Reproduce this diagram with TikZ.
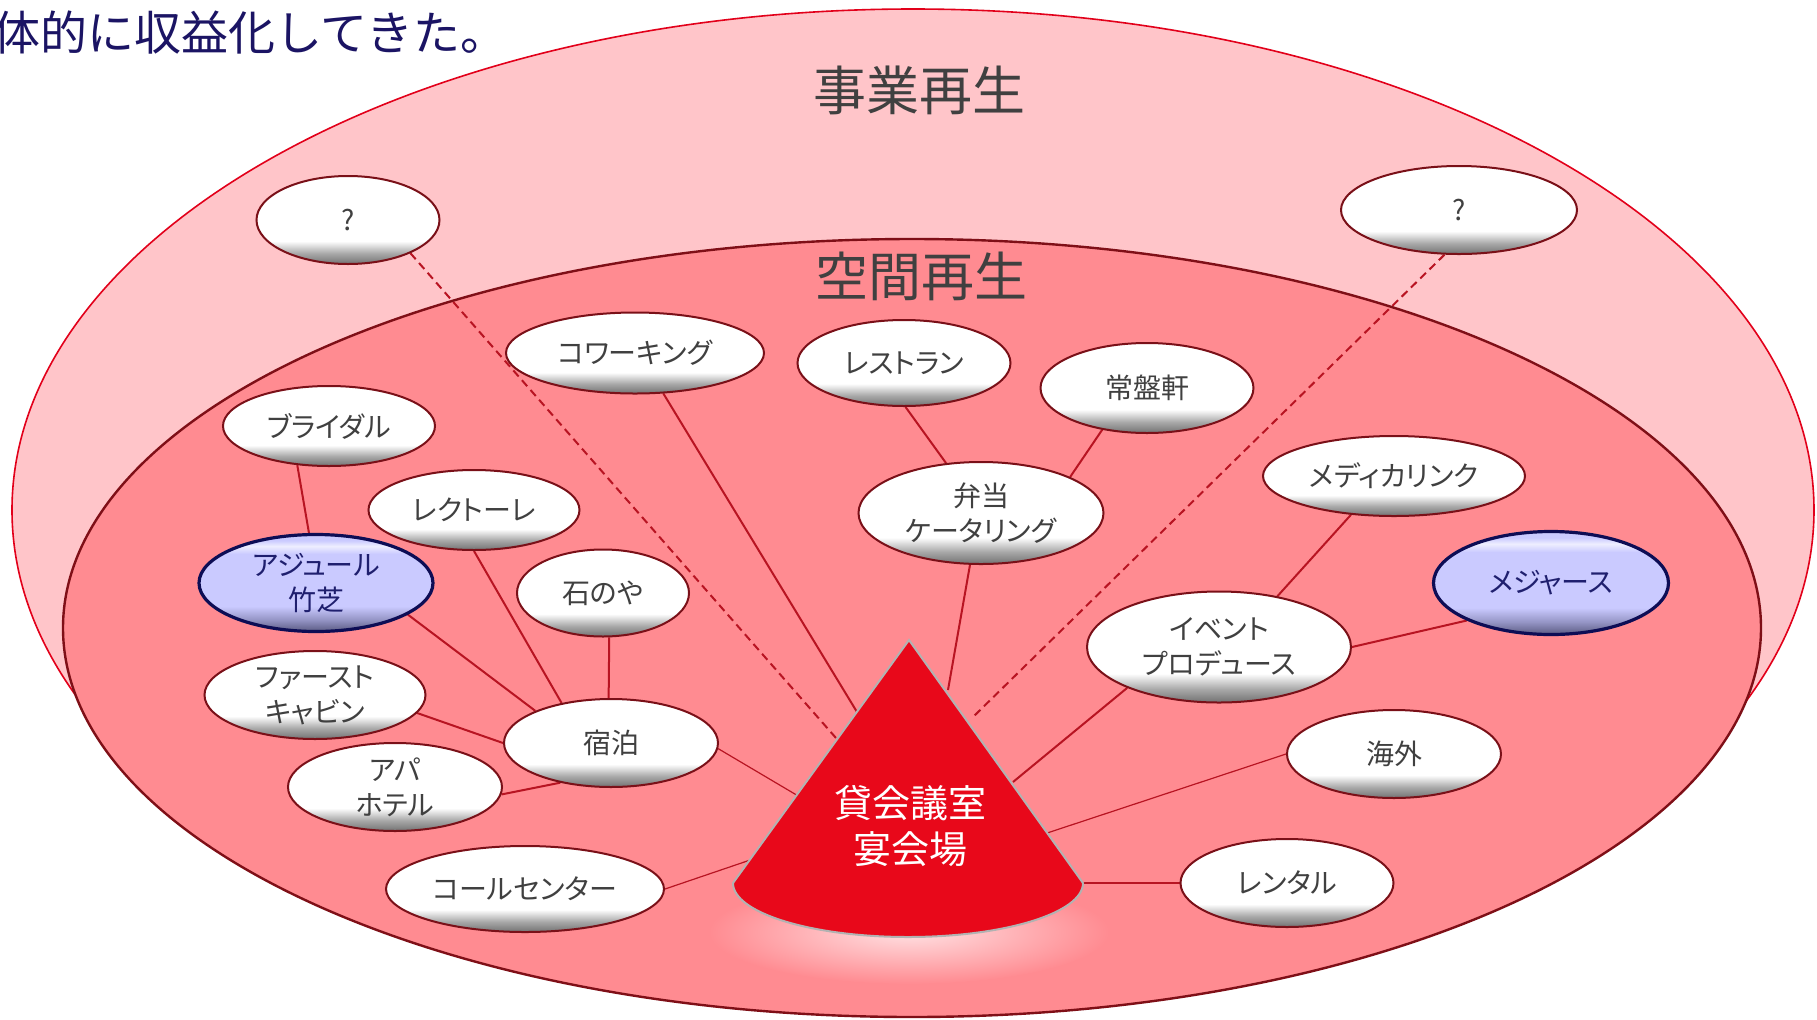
\documentclass[tikz,border=0pt]{standalone}
\usepackage{fontspec}
\setmainfont{Noto Sans CJK JP}
\newfontfamily\jpp[RawFeature=+palt]{Noto Sans CJK JP}
\usetikzlibrary{shapes.geometric}
\definecolor{outerFill}{HTML}{FFC5C9}
\definecolor{outerDraw}{HTML}{E2001A}
\definecolor{innerFill}{HTML}{FF8B91}
\definecolor{innerDraw}{HTML}{7F0F17}
\definecolor{lineRed}{HTML}{B81422}
\definecolor{textGray}{HTML}{404040}
\definecolor{titleNavy}{HTML}{1B1464}
\definecolor{navyText}{HTML}{1F1F6E}
\definecolor{bubbleBorder}{HTML}{7A1018}
\definecolor{blueBorder}{HTML}{0D0D55}
\definecolor{coneRed}{HTML}{E8081A}
\definecolor{glow}{HTML}{FFE0E2}
\definecolor{bw1}{HTML}{727272}
\definecolor{bw2}{HTML}{A8A8A8}
\definecolor{bb1}{HTML}{5A5A82}
\definecolor{bb2}{HTML}{9494C4}
\definecolor{lav}{HTML}{CACAFF}
\definecolor{lavhi}{HTML}{EEEEFF}
\pgfdeclareverticalshading{bevelw}{100bp}{color(0bp)=(bw1); color(25bp)=(bw1); color(31bp)=(bw2); color(38bp)=(white); color(100bp)=(white)}
\pgfdeclareverticalshading{bevelb}{100bp}{color(0bp)=(bb1); color(25bp)=(bb1); color(31bp)=(bb2); color(38bp)=(lav); color(65bp)=(lav); color(69bp)=(lavhi); color(72bp)=(lav); color(100bp)=(lav)}
\pgfdeclarelayer{back}
\pgfdeclarelayer{bg}
\pgfsetlayers{back,bg,main}
\begin{document}
\begin{tikzpicture}[x=0.5pt,y=0.5pt,
  bub/.style={ellipse, draw=bubbleBorder, line width=1pt, shade, shading=bevelw, text=textGray,
    font=\jpp\fontsize{14}{17.5}\selectfont, align=center, inner sep=0pt},
  bbl/.style={bub, draw=blueBorder, line width=1.6pt, shading=bevelb, text=navyText},
  conn/.style={draw=lineRed, line width=1pt},
  thinconn/.style={draw=lineRed, line width=0.6pt},
  dconn/.style={draw=lineRed, line width=1pt, dash pattern=on 4pt off 2.5pt},
  area/.style={text=textGray, font=\fontsize{26.5}{30}\selectfont}]
\useasboundingbox (0,0) rectangle (1817,-1019);

\begin{pgfonlayer}{back}
\fill[white] (0,0) rectangle (1817,-1019);
\path[fill=outerFill, draw=outerDraw, line width=0.8pt] (913,-510) ellipse [x radius=901, y radius=501];
\path[fill=innerFill, draw=innerDraw, line width=1.2pt] (912,-628) ellipse [x radius=849, y radius=389];
\node[area] (biz) at (919,-90) {事業再生};
\node[area] (space) at (921,-276) {空間再生};
\end{pgfonlayer}

\node[anchor=west, inner sep=0pt, text=titleNavy, font=\fontsize{23.5}{28}\selectfont] (title) at (-7,-33) {体的に収益化してきた。};

% cone
\shade[inner color=glow, outer color=innerFill] (909,-932) ellipse [x radius=200, y radius=52];
\path[fill=coneRed, draw=gray!60, line width=1pt] (733,-883) -- (909,-640) -- (1083,-883)
  arc[start angle=0, end angle=-180, x radius=175, y radius=54] -- cycle;
\node[text=white, font=\fontsize{19}{23}\selectfont, align=center] (cone) at (910,-826) {貸会議室\\宴会場};
\coordinate (cQL) at (836,-738);
\coordinate (cCo) at (857,-712);
\coordinate (cBe) at (948,-690);
\coordinate (cQR) at (972,-718);
\coordinate (cEv) at (1013,-782);
\coordinate (cAb) at (1032,-838);
\coordinate (cRe) at (1083,-883);
\coordinate (cCa) at (759,-857);
\coordinate (cSt) at (805,-800);

% bubbles
\node[bub, minimum width=91.5pt, minimum height=44pt] (qL) at (348,-220) {?};
\node[bub, minimum width=118pt, minimum height=44pt] (qR) at (1459,-210) {?};
\node[bub, minimum width=129pt, minimum height=40.5pt] (cowork) at (635,-353) {コワーキング};
\node[bub, minimum width=106.5pt, minimum height=43pt] (rest) at (904,-363) {レストラン};
\node[bub, minimum width=106.5pt, minimum height=45pt] (joban) at (1147,-388) {常盤軒};
\node[bub, minimum width=106pt, minimum height=40pt] (bridal) at (329,-426) {ブライダル};
\node[bub, minimum width=105.5pt, minimum height=40pt] (lecto) at (474,-510) {レクトーレ};
\node[bub, minimum width=122.5pt, minimum height=51pt] (bento) at (981,-513) {弁当\\ケータリング};
\node[bub, minimum width=131pt, minimum height=40pt] (medica) at (1394,-476) {メディカリンク};
\node[bbl, minimum width=117pt, minimum height=48.5pt] (azure) at (316,-583) {アジュール\\竹芝};
\node[bub, minimum width=86pt, minimum height=43.5pt] (ishi) at (603,-593) {石のや};
\node[bbl, minimum width=117.5pt, minimum height=51.5pt] (measures) at (1551,-583) {メジャース};
\node[bub, minimum width=132pt, minimum height=55.5pt] (event) at (1219,-647) {イベント\\プロデュース};
\node[bub, minimum width=110.5pt, minimum height=44pt] (first) at (315,-695) {ファースト\\キャビン};
\node[bub, minimum width=107pt, minimum height=44pt] (stay) at (611,-743) {宿泊};
\node[bub, minimum width=107pt, minimum height=44pt] (apa) at (395,-787) {アパ\\ホテル};
\node[bub, minimum width=107pt, minimum height=44pt] (abroad) at (1394,-754) {海外};
\node[bub, minimum width=139pt, minimum height=43pt] (call) at (525,-889) {コールセンター};
\node[bub, minimum width=106.5pt, minimum height=44pt] (rental) at (1287,-883) {レンタル};

\begin{pgfonlayer}{bg}
\draw[conn] (bridal.231) -- (azure.98);
\draw[conn] (azure.341) -- (stay.157);
\draw[conn] (lecto.270) -- (stay.141);
\draw[conn] (ishi.278) -- (stay.93);
\draw[conn] (first.350) -- (stay.180);
\draw[conn] (apa.356) -- (stay.218);
\draw[thinconn] (stay.357) -- (cSt);
\draw[thinconn] (call.0) -- (cCa);
\draw[conn] (cowork.305) -- (cCo);
\draw[dconn] (qL.332) -- (cQL);
\draw[conn] (bento.258) -- (cBe);
\draw[conn] (rest.272) -- (bento.125);
\draw[conn] (joban.223) -- (bento.22);
\draw[dconn] (qR.252) -- (cQR);
\draw[conn] (medica.222) -- (event.41);
\draw[conn] (measures.204) -- (event.0);
\draw[conn] (event.204) -- (cEv);
\draw[thinconn] (abroad.180) -- (cAb);
\draw[conn] (rental.180) -- (cRe);
\end{pgfonlayer}
\end{tikzpicture}
\end{document}
